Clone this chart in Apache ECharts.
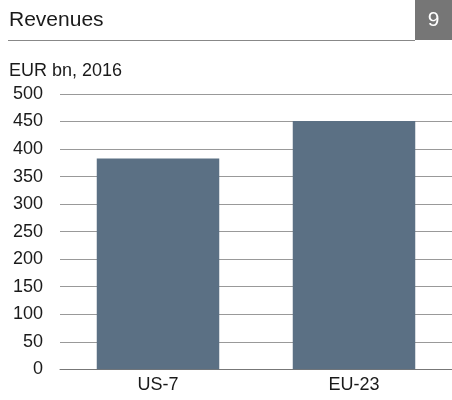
<!DOCTYPE html>
<html><head><meta charset="utf-8">
<script src="https://cdn.jsdelivr.net/npm/echarts@6/dist/echarts.min.js"></script>
<style>html,body{margin:0;padding:0;background:#fff}#c{width:452px;height:400px}</style>
</head><body><div id="c"></div>
<script>
const categories = ['US-7', 'EU-23'];
const revenues = [383, 451];
const yTicks = [0, 50, 100, 150, 200, 250, 300, 350, 400, 450, 500];

const chart = echarts.init(document.getElementById('c'), null, {renderer: 'canvas'});
const font = 'Liberation Sans, Arial, sans-serif';
chart.setOption({
  animation: false,
  title: [
    {text: 'Revenues', left: 9, top: 10, padding: 0, textStyle: {fontFamily: font, fontSize: 21, fontWeight: 'normal', color: '#1a1a1a'}},
    {text: 'EUR bn, 2016', left: 9, top: 62, padding: 0, textStyle: {fontFamily: font, fontSize: 18, fontWeight: 'normal', color: '#1a1a1a'}}
  ],
  graphic: [
    {type: 'rect', shape: {x: 415, y: 0, width: 37, height: 40}, style: {fill: '#767676'}},
    {type: 'text', x: 433.5, y: 20, style: {text: '9', fill: '#fff', font: '21px ' + font, textAlign: 'center', textVerticalAlign: 'middle'}},
    {type: 'line', shape: {x1: 8, y1: 40.5, x2: 415, y2: 40.5}, style: {stroke: '#888', lineWidth: 1}}
  ],
  grid: {left: 60, right: -3, top: 94, bottom: 30.7, containLabel: false},
  xAxis: {
    type: 'category', data: categories,
    axisLine: {show: true, lineStyle: {color: '#777', width: 1}},
    axisTick: {show: false},
    axisLabel: {fontFamily: font, fontSize: 18, color: '#1a1a1a', margin: 7}
  },
  yAxis: {
    type: 'value', min: yTicks[0], max: yTicks[yTicks.length - 1], interval: 50,
    axisLine: {show: false}, axisTick: {show: false},
    axisLabel: {fontFamily: font, fontSize: 18, color: '#1a1a1a', margin: 17},
    splitLine: {lineStyle: {color: '#999', width: 1}}
  },
  series: [{
    type: 'bar', data: revenues, barWidth: '62.5%',
    itemStyle: {color: '#5b7084'}
  }]
});
</script></body></html>
